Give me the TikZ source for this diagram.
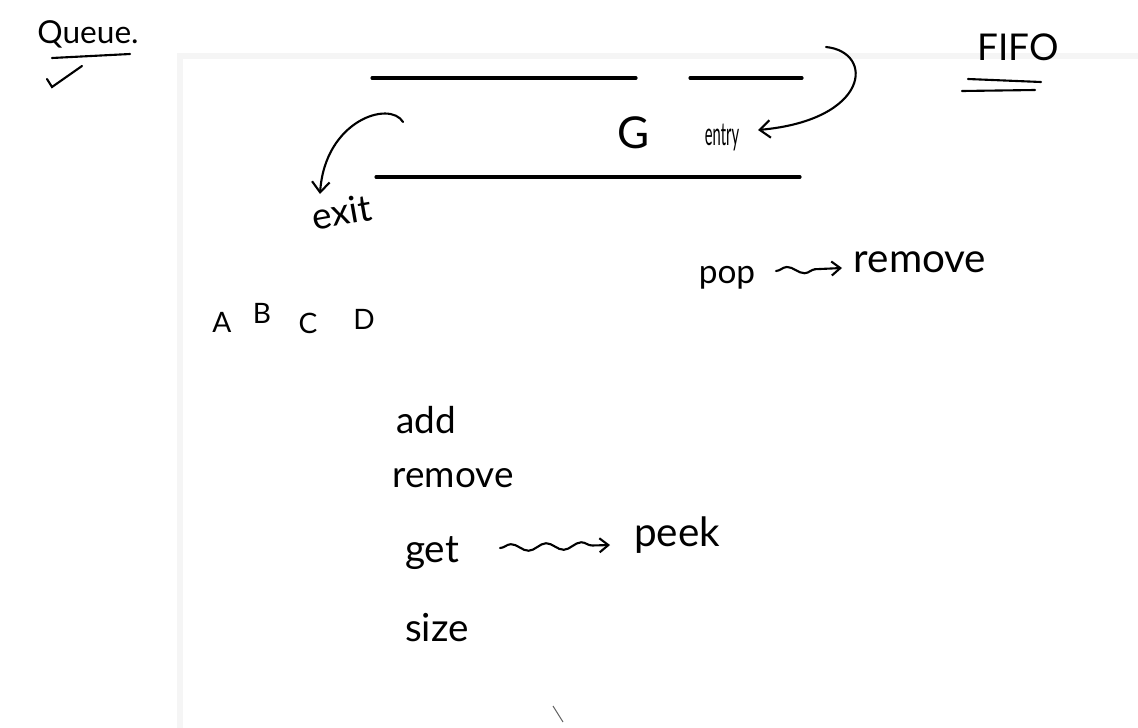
\documentclass[tikz,border=0pt]{standalone}
\usepackage{fontspec}
\setmainfont{Lato}
\usetikzlibrary{arrows.meta,decorations.pathmorphing}

\tikzset{
  ink/.style={line width=1.2pt, line cap=round},
  bar/.style={line width=1.8pt, line cap=round},
  word/.style={inner sep=0pt, font=\fontsize{21}{24}\selectfont},
  letter/.style={inner sep=0pt, font=\fontsize{16}{18}\selectfont},
  squig/.style={ink, -{Straight Barb[length=5pt,width=8pt]}, decorate,
    decoration={snake, amplitude=2pt, segment length=20pt, post length=8pt}},
}

\begin{document}
\begin{tikzpicture}[x=0.02cm,y=-0.02cm]
\useasboundingbox (0,0) rectangle (1138,727);
% edge of the board
\draw[black!4, line width=3pt] (180,740) -- (180,56) -- (1150,56);

% heading
\node[word,font=\fontsize{18}{20}\selectfont] (title) at (88,34) {Queue.};
\draw[ink] (52,58) -- (130,54);
\draw[ink] (47,79) -- (52,87) -- (82,66);
\node[word] (fifo) at (1018,47) {FIFO};
\draw[ink] (968,79) -- (1041,82);
\draw[ink] (962,91) -- (1035,90);

% the queue
\draw[bar] (372,78) -- (636,78);
\draw[bar] (690,78) -- (802,78);
\draw[bar] (376,177) -- (800,177);
\node[word,font=\fontsize{25}{28}\selectfont] (g) at (634,133) {G};
\node[word,font=\fontsize{14}{16}\selectfont] (entry) at (722,138) {\scalebox{0.6}[1.3]{entry}};
\node[word,rotate=10] (exit) at (342,212) {exit};
\coordinate (entrystart) at (826,47);
\coordinate (entrytip) at (758,130);
\coordinate (exitstart) at (403,122);
\coordinate (exittip) at (320,194);
\draw[ink,-{Straight Barb[length=6pt,width=10pt]}] (entrystart) .. controls (875,52) and (870,120) .. (entrytip);
\draw[ink,-{Straight Barb[length=6pt,width=10pt]}] (exitstart) .. controls (390,100) and (325,120) .. (exittip);

% pop
\node[word,font=\fontsize{19}{22}\selectfont] (pop) at (727,278) {pop};
\node[word,font=\fontsize{23}{26}\selectfont] (rem) at (920,262) {remove};
\draw[squig] (776,271) -- (842,268);

% elements
\node[letter] (a) at (222,322) {A};
\node[letter] (b) at (262,313) {B};
\node[letter] (c) at (308,323) {C};
\node[letter] (d) at (364,319) {D};

% operations
\node[word] (add) at (426,420) {add};
\node[word] (remove) at (453,478) {remove};
\node[word,font=\fontsize{22}{25}\selectfont] (get) at (432,553) {get};
\node[word,font=\fontsize{23}{26}\selectfont] (peek) at (677,535) {peek};
\node[word,font=\fontsize{22}{25}\selectfont] (size) at (437,628) {size};
\draw[squig] (500,548) -- (610,545);

\draw[black!60, line width=0.6pt] (553,706) -- (563,722);
\end{tikzpicture}
\end{document}
